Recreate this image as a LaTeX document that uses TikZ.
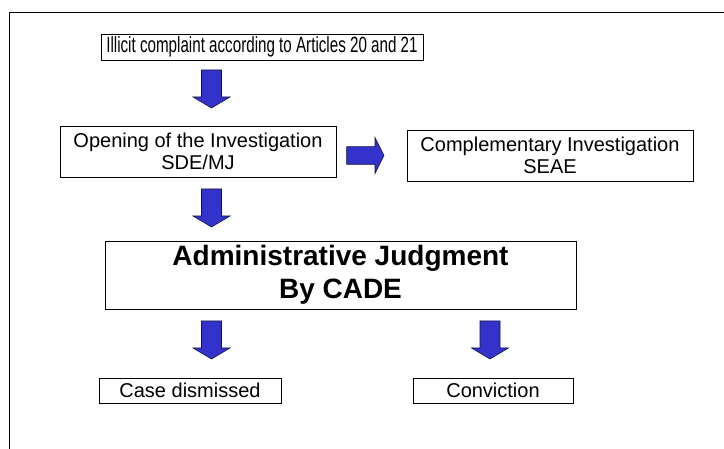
\documentclass[tikz,border=0pt]{standalone}
\usepackage{fontspec}
\setmainfont{Liberation Sans}
\newfontfamily\narrowfont[FakeStretch=0.69]{Liberation Sans}
\definecolor{arrowblue}{RGB}{51,51,204}
\definecolor{arrowedge}{RGB}{20,20,60}
\tikzset{
  box/.style={draw=black, line width=0.9pt, fill=white, inner sep=0pt, align=center},
  blockarrow/.style={fill=arrowblue, draw=arrowedge, line width=0.6pt, line join=miter},
  frameline/.style={draw=black, line width=0.9pt},
  pics/downarr/.style={code={
    \draw[blockarrow] (-10,0) -- (10,0) -- (10,27) -- (18.5,27) -- (0,38) -- (-18.5,27) -- (-10,27) -- cycle;
  }},
  pics/rightarr/.style={code={
    \draw[blockarrow] (0,-8.8) -- (28.3,-8.8) -- (28.3,-18) -- (37.3,0) -- (28.3,18) -- (28.3,8.8) -- (0,8.8) -- cycle;
  }}
}
\begin{document}
\begin{tikzpicture}[x=1pt,y=-1pt]
\useasboundingbox (0,0) rectangle (724,449);
% frame
\coordinate (fTR) at (724,12);
\coordinate (fTL) at (9,12);
\coordinate (fBL) at (9,449);
\draw[frameline] (fTR) -- (fTL) -- (fBL);
% boxes
\node[box, minimum width=322pt, minimum height=26pt, font=\narrowfont\fontsize{22}{22}\selectfont] (b1) at (262,47) {Illicit complaint according to Articles 20 and 21};
\node[box, minimum width=276pt, minimum height=51pt, font=\fontsize{20}{22.5}\selectfont] (b2) at (198,151.5) {Opening of the Investigation\\SDE/MJ};
\node[box, minimum width=286pt, minimum height=51pt, font=\fontsize{20}{22.5}\selectfont] (b3) at (550,155.5) {Complementary Investigation\\SEAE};
\node[box, minimum width=471pt, minimum height=68pt, font=\bfseries\fontsize{28}{33}\selectfont] (b4) at (340.5,275) {Administrative Judgment\\By CADE};
\node[box, minimum width=182pt, minimum height=25pt, font=\fontsize{20}{22}\selectfont] (b5) at (190,390.5) {Case dismissed};
\node[box, minimum width=160pt, minimum height=25pt, font=\fontsize{20}{22}\selectfont] (b6) at (493,390.5) {Conviction};
% arrows
\pic at (211.5,70) {downarr};
\pic at (211.5,189) {downarr};
\pic at (211.5,321) {downarr};
\pic at (490,321) {downarr};
\pic at (346.7,155.5) {rightarr};
\end{tikzpicture}
\end{document}
